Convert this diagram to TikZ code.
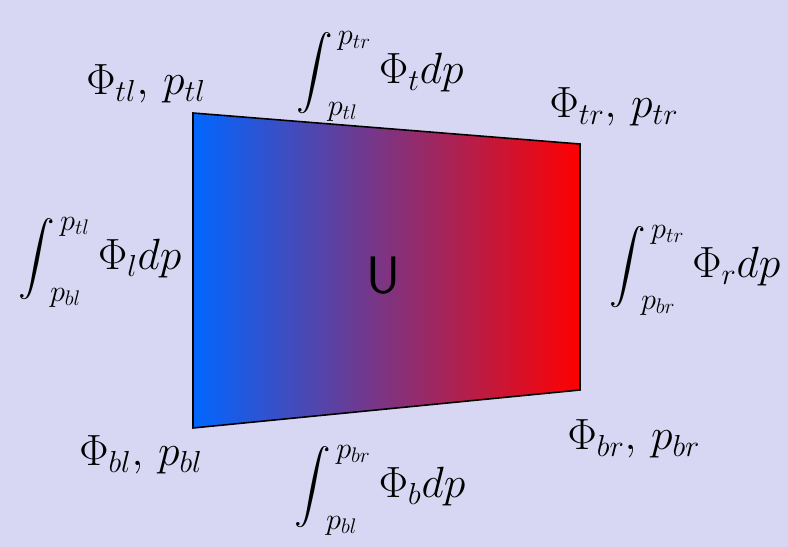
\documentclass[tikz,border=0pt]{standalone}
\usepackage{amsmath,amssymb}
\usepackage{graphicx}
\usepackage{tikz}
\usetikzlibrary{positioning,calc}
\usepackage{xcolor}
\definecolor{bgcol}{HTML}{D7D7F3}
\definecolor{cellblue}{HTML}{0066FF}
\definecolor{cellred}{HTML}{FF0000}
\newcommand{\cornerlbl}[1]{\Phi_{#1},\,p_{#1}}
\newcommand{\fluxint}{\mathop{\vcenter{\hbox{\scalebox{0.8}{$\displaystyle\int$}}}}\nolimits}
\newcommand{\edgeint}[3]{\fluxint_{\!p_{#1}}^{\,p_{#2}}\Phi_{#3}dp}

\begin{document}
\begin{tikzpicture}[x=0.02cm, y=-0.02cm,
  lbl/.style={inner sep=0pt, font=\fontsize{26}{30}\selectfont},
  cell/.style={draw=black, line width=0.9pt, left color=cellblue, right color=cellred}]
  \fill[bgcol] (0,0) rectangle (788,547);
  \useasboundingbox (0,0) rectangle (788,547);
  % corners of the cell
  \coordinate (tl) at (193,113);
  \coordinate (tr) at (580,144);
  \coordinate (br) at (580,390);
  \coordinate (bl) at (193,428);
  \shade[cell] (tl) -- (tr) -- (br) -- (bl) -- cycle;
  \node[font=\sffamily\fontsize{30}{34}\selectfont, inner sep=0pt] (u) at (383,276) {U};
  % corner values
  \node[lbl] (ctl) at (146,84) {$\cornerlbl{tl}$};
  \node[lbl] (ctr) at (614,107) {$\cornerlbl{tr}$};
  \node[lbl] (cbl) at (141,455) {$\cornerlbl{bl}$};
  \node[lbl] (cbr) at (634,439) {$\cornerlbl{br}$};
  % edge fluxes
  \node[lbl] (et) at (380,76) {$\edgeint{tl}{tr}{t}$};
  \node[lbl] (eb) at (380,490) {$\edgeint{bl}{br}{b}$};
  \node[lbl] (el) at (100,262) {$\edgeint{bl}{tl}{l}$};
  \node[lbl] (er) at (695,270) {$\edgeint{br}{tr}{r}$};
\end{tikzpicture}
\end{document}
